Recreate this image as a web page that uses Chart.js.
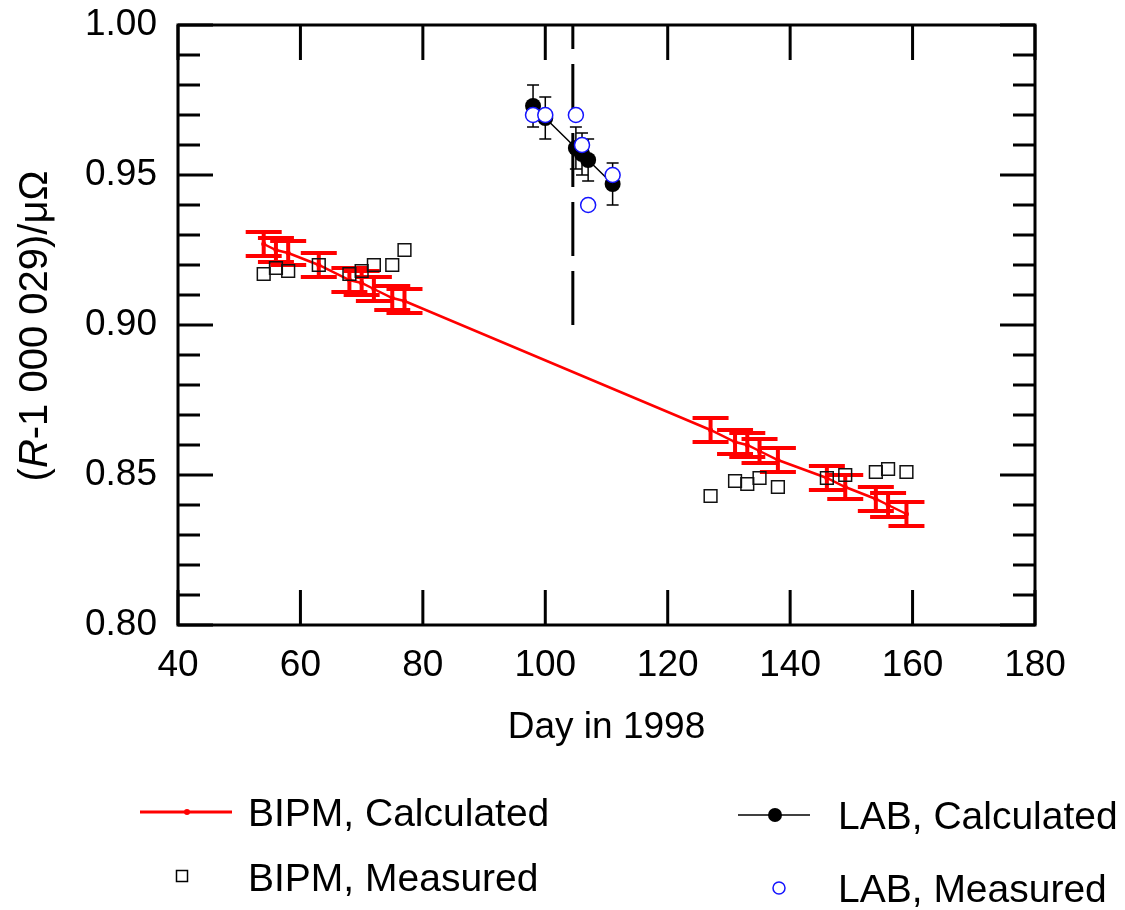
<!DOCTYPE html>
<html><head><meta charset="utf-8">
<script src="https://cdn.jsdelivr.net/npm/chart.js@4"></script>
<style>
html,body{margin:0;padding:0;background:#fff;}
#wrap{position:relative;width:1125px;height:910px;font-family:"Liberation Sans",Arial,sans-serif;color:#000;overflow:hidden;}
#c{position:absolute;left:0;top:0;}
#icons{position:absolute;left:0;top:0;}
.ytitle{position:absolute;left:33px;top:326px;transform:translate(-50%,-50%) rotate(-90deg);font-size:40px;white-space:nowrap;line-height:1;}
.leg{position:absolute;font-size:39px;white-space:nowrap;line-height:1;transform:translateY(-50%);}
</style></head>
<body>
<div id="wrap">
<canvas id="c" width="1125" height="910"></canvas>
<div class="ytitle">(<i>R</i>-1 000 029)/μΩ</div>
<svg id="icons" width="1125" height="910">
  <line x1="140" y1="812" x2="232" y2="812" stroke="#ff0000" stroke-width="3"/>
  <circle cx="187" cy="812" r="3" fill="#ff0000"/>
  <rect x="176.5" y="870.5" width="11" height="11" fill="none" stroke="#000" stroke-width="1.5"/>
  <line x1="738" y1="815" x2="810" y2="815" stroke="#000" stroke-width="1.5"/>
  <circle cx="775" cy="815" r="7" fill="#000"/>
  <circle cx="779" cy="888" r="6" fill="#fff" stroke="#1414ff" stroke-width="1.5"/>
</svg>
<div class="leg" style="left:248px;top:812px;">BIPM, Calculated</div>
<div class="leg" style="left:248px;top:877px;">BIPM, Measured</div>
<div class="leg" style="left:838px;top:815px;">LAB, Calculated</div>
<div class="leg" style="left:838px;top:888px;">LAB, Measured</div>
</div>
<script>
// ---- data ----
const bipmDays = [54,56,58,63,68,70,72,75,77,127,131,133,135,138,146,149,154,156,159];
const bipmCalculated = [0.927,0.925,0.924,0.920,0.915,0.914,0.912,0.909,0.908,0.865,0.861,0.860,0.858,0.855,0.849,0.846,0.842,0.840,0.837];
const bipmCalcError = [0.004,0.004,0.004,0.004,0.004,0.004,0.004,0.004,0.004,0.004,0.004,0.004,0.004,0.004,0.004,0.004,0.004,0.004,0.004];
const bipmMeasured = [0.917,0.919,0.918,0.920,0.917,0.918,0.920,0.920,0.925,0.843,0.848,0.847,0.849,0.846,0.849,0.850,0.851,0.852,0.851];
const labDays = [98,100,105,106,107,111];
const labCalculated = [0.973,0.969,0.959,0.957,0.955,0.947];
const labCalcError = [0.007,0.007,0.007,0.007,0.007,0.007];
const labMeasured = [0.970,0.970,0.970,0.960,0.940,0.950];
const markerDay = [104.5,104.5];
const markerValues = [0.90,1.00];
const xTickLabels = ['40','60','80','100','120','140','160','180'];
const yTickLabels = ['0.80','0.85','0.90','0.95','1.00'];

const FONT = 'Liberation Sans';
Chart.defaults.font.family = FONT;
Chart.defaults.color = '#000';

const pts = (xs, ys) => xs.map((x, i) => ({x, y: ys[i]}));

const errorBars = {
  id: 'errorBars',
  beforeDatasetDraw(chart, args) {
    const ds = chart.data.datasets[args.index];
    if (!ds.errors) return;
    const ctx = chart.ctx, ys = chart.scales.y, xs = chart.scales.x;
    ctx.save();
    ctx.strokeStyle = ds.errColor;
    ctx.lineWidth = ds.errWidth;
    ds.data.forEach((p, i) => {
      const e = ds.errors[i];
      const px = xs.getPixelForValue(p.x);
      const top = ys.getPixelForValue(p.y + e), bot = ys.getPixelForValue(p.y - e);
      ctx.beginPath();
      ctx.moveTo(px, top); ctx.lineTo(px, bot);
      ctx.moveTo(px - ds.capHalf, top); ctx.lineTo(px + ds.capHalf, top);
      ctx.moveTo(px - ds.capHalf, bot); ctx.lineTo(px + ds.capHalf, bot);
      ctx.stroke();
    });
    ctx.restore();
  }
};

const frameTicks = {
  id: 'frameTicks',
  afterDraw(chart) {
    const ctx = chart.ctx, a = chart.chartArea;
    const xs = chart.scales.x, ys = chart.scales.y;
    ctx.save();
    ctx.strokeStyle = '#000';
    ctx.lineWidth = 3;
    ctx.lineCap = 'butt';
    ys.ticks.forEach(t => {
      const py = ys.getPixelForValue(t.value);
      const len = t.label ? 35 : 22;
      ctx.beginPath();
      ctx.moveTo(a.left, py); ctx.lineTo(a.left + len, py);
      ctx.moveTo(a.right, py); ctx.lineTo(a.right - len, py);
      ctx.stroke();
    });
    xs.ticks.forEach(t => {
      const px = xs.getPixelForValue(t.value);
      ctx.beginPath();
      ctx.moveTo(px, a.bottom); ctx.lineTo(px, a.bottom - 35);
      ctx.moveTo(px, a.top); ctx.lineTo(px, a.top + 35);
      ctx.stroke();
    });
    ctx.strokeRect(a.left, a.top, a.right - a.left, a.bottom - a.top);
    ctx.restore();
  }
};

new Chart(document.getElementById('c'), {
  type: 'scatter',
  data: {
    datasets: [
      {
        label: 'BIPM, Calculated', type: 'line', order: 5,
        data: pts(bipmDays, bipmCalculated),
        borderColor: '#ff0000', borderWidth: 2.5, backgroundColor: '#ff0000',
        pointRadius: 2.5, pointBorderWidth: 0, showLine: true, fill: false, tension: 0,
        errors: bipmCalcError, errColor: '#ff0000', errWidth: 4, capHalf: 18
      },
      {
        label: 'BIPM, Measured', order: 4,
        data: pts(bipmDays, bipmMeasured),
        pointStyle: 'rect', pointRadius: 9, borderWidth: 1.5,
        borderColor: '#111', backgroundColor: 'rgba(0,0,0,0)'
      },
      {
        label: 'marker', type: 'line', order: 3,
        data: pts(markerDay, markerValues),
        borderColor: '#000', borderWidth: 3, borderDash: [54, 15], borderCapStyle: 'butt',
        pointRadius: 0, fill: false
      },
      {
        label: 'LAB, Calculated', type: 'line', order: 2,
        data: pts(labDays, labCalculated),
        borderColor: '#000', borderWidth: 1.5, backgroundColor: '#000',
        pointRadius: 8, pointBorderWidth: 0, fill: false, tension: 0,
        errors: labCalcError, errColor: '#000', errWidth: 1.5, capHalf: 6
      },
      {
        label: 'LAB, Measured', order: 1,
        data: pts(labDays, labMeasured),
        pointStyle: 'circle', pointRadius: 7.5, borderWidth: 1.5,
        borderColor: '#1414ff', backgroundColor: '#ffffff'
      }
    ]
  },
  options: {
    responsive: false, animation: false, devicePixelRatio: 1,
    layout: { padding: { left: 0, right: 90, top: 25, bottom: 150 } },
    plugins: { legend: { display: false }, tooltip: { enabled: false } },
    scales: {
      x: {
        type: 'linear', min: 40, max: 180,
        border: { display: false },
        grid: { display: false, drawTicks: false },
        ticks: {
          stepSize: 20, padding: 19, autoSkip: false, maxRotation: 0, color: '#000',
          font: { family: FONT, size: 37 },
          callback: v => xTickLabels.find(l => Number(l) === v) || ''
        },
        title: { display: true, text: 'Day in 1998', color: '#000', font: { family: FONT, size: 37 }, padding: { top: 0, bottom: 10 } },
        afterFit(s) { s.height = 135; s.paddingLeft = 0; s.paddingRight = 0; }
      },
      y: {
        type: 'linear', min: 0.80, max: 1.00,
        border: { display: false },
        grid: { display: false, drawTicks: false },
        ticks: {
          stepSize: 0.01, padding: 21, autoSkip: false, color: '#000',
          font: { family: FONT, size: 37 },
          callback: v => yTickLabels.find(l => Math.abs(Number(l) - v) < 1e-6) || ''
        },
        afterFit(s) { s.width = 178; s.paddingTop = 0; s.paddingBottom = 0; }
      }
    }
  },
  plugins: [errorBars, frameTicks]
});
</script>
</body></html>
